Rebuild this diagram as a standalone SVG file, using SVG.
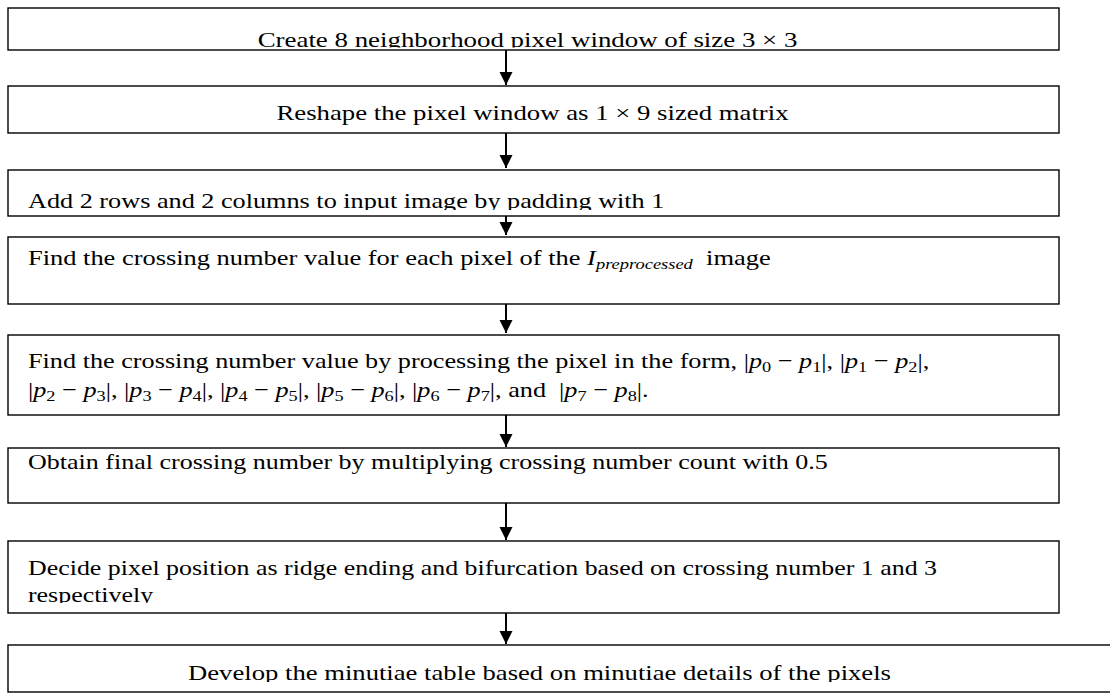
<svg xmlns="http://www.w3.org/2000/svg" width="1110" height="693" viewBox="0 0 1110 693">
<style>
.box{fill:#fff;stroke:#000;stroke-width:1.4}
.t{font-family:"Liberation Serif","Times New Roman",serif;font-size:21.5px;fill:#000}
.m{font-style:italic}
.s{font-size:15px}
.conn{stroke:#000;stroke-width:2;fill:none}
</style>
<defs>
<marker id="ah" markerUnits="userSpaceOnUse" markerWidth="14" markerHeight="14" refX="13" refY="6.5" orient="auto">
<path d="M0,0 L13,6.5 L0,13 Z" fill="#000"/>
</marker>
<clipPath id="c1"><rect x="0" y="0" width="1110" height="47.5"/></clipPath>
<clipPath id="c3"><rect x="0" y="160" width="1110" height="50"/></clipPath>
<clipPath id="c5"><rect x="0" y="330" width="1110" height="77"/></clipPath>
<clipPath id="c7"><rect x="0" y="540" width="1110" height="63"/></clipPath>
<clipPath id="c8"><rect x="0" y="640" width="1110" height="42"/></clipPath>
</defs>
<g id="connectors">
<line class="conn" x1="506" y1="50" x2="506" y2="85" marker-end="url(#ah)"/>
<line class="conn" x1="506" y1="133" x2="506" y2="168" marker-end="url(#ah)"/>
<line class="conn" x1="506" y1="216" x2="506" y2="235" marker-end="url(#ah)"/>
<line class="conn" x1="506" y1="304" x2="506" y2="333" marker-end="url(#ah)"/>
<line class="conn" x1="506" y1="415" x2="506" y2="447" marker-end="url(#ah)"/>
<line class="conn" x1="506" y1="503" x2="506" y2="540" marker-end="url(#ah)"/>
<line class="conn" x1="506" y1="613" x2="506" y2="644" marker-end="url(#ah)"/>
</g>
<g id="node1">
<rect class="box" x="8" y="8" width="1051" height="42"/>
<g clip-path="url(#c1)"><text class="t" text-anchor="middle" transform="translate(527.5,47) scale(1.25,1)">Create 8 neighborhood pixel window of size 3 × 3</text></g>
</g>
<g id="node2">
<rect class="box" x="8" y="86" width="1051" height="47"/>
<text class="t" text-anchor="middle" transform="translate(532.5,120) scale(1.245,1)">Reshape the pixel window as 1 × 9 sized matrix</text>
</g>
<g id="node3">
<rect class="box" x="8" y="170" width="1051" height="46"/>
<g clip-path="url(#c3)"><text class="t" transform="translate(28,208) scale(1.22,1)">Add 2 rows and 2 columns to input image by padding with 1</text></g>
</g>
<g id="node4">
<rect class="box" x="8" y="237" width="1051" height="67"/>
<text class="t" transform="translate(28,265) scale(1.23,1)">Find the crossing number value for each pixel of the <tspan class="m">I</tspan><tspan class="m s" dy="4">preprocessed</tspan><tspan dy="-4" xml:space="preserve">  image</tspan></text>
</g>
<g id="node5">
<rect class="box" x="8" y="335" width="1051" height="80"/>
<g clip-path="url(#c5)">
<text class="t" transform="translate(28,368) scale(1.22,1)" xml:space="preserve">Find the crossing number value by processing the pixel in the form, |<tspan class="m">p</tspan><tspan class="s" dy="4">0</tspan><tspan dy="-4"> − </tspan><tspan class="m">p</tspan><tspan class="s" dy="4">1</tspan><tspan dy="-4">|, |</tspan><tspan class="m">p</tspan><tspan class="s" dy="4">1</tspan><tspan dy="-4"> − </tspan><tspan class="m">p</tspan><tspan class="s" dy="4">2</tspan><tspan dy="-4">|,</tspan></text>
<text class="t" transform="translate(28,397) scale(1.22,1)" xml:space="preserve">|<tspan class="m">p</tspan><tspan class="s" dy="4">2</tspan><tspan dy="-4"> − </tspan><tspan class="m">p</tspan><tspan class="s" dy="4">3</tspan><tspan dy="-4">|, |</tspan><tspan class="m">p</tspan><tspan class="s" dy="4">3</tspan><tspan dy="-4"> − </tspan><tspan class="m">p</tspan><tspan class="s" dy="4">4</tspan><tspan dy="-4">|, |</tspan><tspan class="m">p</tspan><tspan class="s" dy="4">4</tspan><tspan dy="-4"> − </tspan><tspan class="m">p</tspan><tspan class="s" dy="4">5</tspan><tspan dy="-4">|, |</tspan><tspan class="m">p</tspan><tspan class="s" dy="4">5</tspan><tspan dy="-4"> − </tspan><tspan class="m">p</tspan><tspan class="s" dy="4">6</tspan><tspan dy="-4">|, |</tspan><tspan class="m">p</tspan><tspan class="s" dy="4">6</tspan><tspan dy="-4"> − </tspan><tspan class="m">p</tspan><tspan class="s" dy="4">7</tspan><tspan dy="-4">|, and  |</tspan><tspan class="m">p</tspan><tspan class="s" dy="4">7</tspan><tspan dy="-4"> − </tspan><tspan class="m">p</tspan><tspan class="s" dy="4">8</tspan><tspan dy="-4">|.</tspan></text>
</g>
</g>
<g id="node6">
<rect class="box" x="8" y="448" width="1051" height="55"/>
<text class="t" transform="translate(28,469) scale(1.21,1)">Obtain final crossing number by multiplying crossing number count with 0.5</text>
</g>
<g id="node7">
<rect class="box" x="8" y="541" width="1051" height="72"/>
<g clip-path="url(#c7)">
<text class="t" transform="translate(28,575) scale(1.205,1)">Decide pixel position as ridge ending and bifurcation based on crossing number 1 and 3</text>
<text class="t" transform="translate(28,602) scale(1.205,1)">respectively</text>
</g>
</g>
<g id="node8">
<rect class="box" x="8" y="645" width="1110" height="47"/>
<g clip-path="url(#c8)"><text class="t" text-anchor="middle" transform="translate(539.5,680) scale(1.24,1)">Develop the minutiae table based on minutiae details of the pixels</text></g>
</g>
</svg>
